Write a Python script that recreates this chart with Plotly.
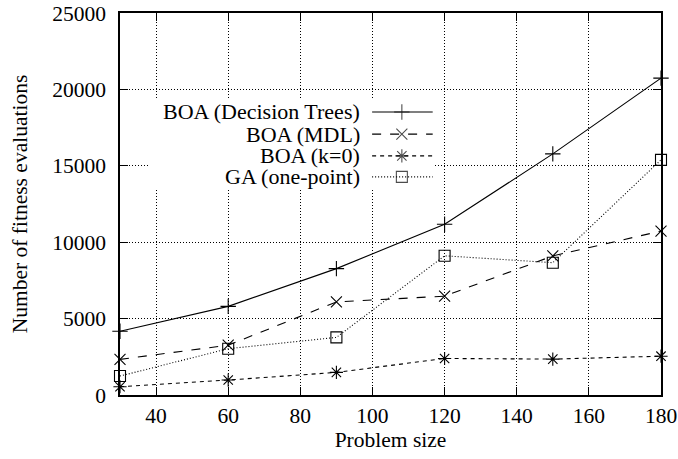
import plotly.graph_objects as go

# ---- data ----
problem_size = [30, 60, 90, 120, 150, 180]
boa_dt = [4170, 5800, 8270, 11170, 15780, 20740]
boa_mdl = [2330, 3260, 6090, 6470, 9100, 10730]
boa_k0 = [540, 980, 1480, 2390, 2350, 2540]
ga_onepoint = [1240, 3030, 3770, 9110, 8660, 15390]

series_names = ["BOA (Decision Trees)", "BOA (MDL)", "BOA (k=0)", "GA (one-point)"]
series_values = [boa_dt, boa_mdl, boa_k0, ga_onepoint]

x_ticks = [40, 60, 80, 100, 120, 140, 160, 180]
y_ticks = [0, 5000, 10000, 15000, 20000, 25000]
y_tick_text = ["0", "5000", "10000", "15000", "20000", "25000"]

# ---- styles ----
FONT = "Liberation Serif"
FS = 21.5
dashes = ["solid", "dash", "4px,4px", "1px,2px"]
symbols = ["cross-thin-open", "x-thin-open", "asterisk-open", "square-open"]
msizes = [11, 11, 11, 11]

fig = go.Figure()
for name, vals, d, s, ms in zip(series_names, series_values, dashes, symbols, msizes):
    fig.add_trace(go.Scatter(
        x=problem_size, y=vals, mode="lines+markers", name=name,
        line=dict(color="black", width=1.1, dash=d),
        marker=dict(symbol=s, size=ms, color="black", line=dict(color="black", width=1.1)),
        showlegend=False, cliponaxis=False,
    ))

# ---- manual gnuplot-style key (text right, sample on right) ----
# white key box covering the grid (drawn in the overlay subplot, above main grid)
bx0, bx1, by0, by1 = 0.055, 0.582, 0.542, 0.772
fig.add_trace(go.Scatter(
    x=[bx0, bx1, bx1, bx0, bx0], y=[by0, by0, by1, by1, by0], xaxis="x2", yaxis="y2",
    mode="lines", fill="toself", fillcolor="white", line=dict(width=0, color="white"),
    showlegend=False, hoverinfo="skip",
))

key_rows_y = [0.741, 0.683, 0.626, 0.571]
sx0, sxm, sx1 = 0.466, 0.521, 0.578
for name, d, s, ms, ry in zip(series_names, dashes, symbols, msizes, key_rows_y):
    fig.add_trace(go.Scatter(
        x=[sx0, sxm, sx1], y=[ry, ry, ry], xaxis="x2", yaxis="y2",
        mode="lines+markers",
        line=dict(color="black", width=1.1, dash=d),
        marker=dict(symbol=s, size=[0, ms, 0], color="black", line=dict(color="black", width=1.1)),
        showlegend=False, hoverinfo="skip",
    ))
    fig.add_annotation(x=0.447, y=ry, xref="x2", yref="y2", text=name, showarrow=False,
                       xanchor="right", yanchor="middle",
                       font=dict(family=FONT, size=22, color="black"))

axis_common = dict(
    showline=True, linecolor="black", linewidth=1.6, mirror="ticks",
    ticks="inside", ticklen=8, tickwidth=1, tickcolor="black",
    showgrid=True, gridcolor="black", gridwidth=1, griddash="1px,2px",
    zeroline=False, automargin=False,
    tickfont=dict(family=FONT, size=FS, color="black"),
)

fig.update_layout(
    width=678, height=459,
    margin=dict(l=120, r=17, t=13, b=64, autoexpand=False),
    paper_bgcolor="white", plot_bgcolor="white",
    font=dict(family=FONT, size=FS, color="black"),
    xaxis=dict(range=[30, 180], tickvals=x_ticks, ticklabelstandoff=0,
               title=dict(text="Problem size", font=dict(family=FONT, size=FS), standoff=5),
               **axis_common),
    yaxis=dict(range=[0, 25000], tickvals=y_ticks, ticktext=y_tick_text, ticklabelstandoff=8,
               title=dict(text="Number of fitness evaluations", font=dict(family=FONT, size=FS), standoff=19),
               **axis_common),
    xaxis2=dict(overlaying="x", range=[0, 1], visible=False, fixedrange=True),
    yaxis2=dict(overlaying="y", range=[0, 1], visible=False, fixedrange=True),
)

fig.write_html("out.html")
